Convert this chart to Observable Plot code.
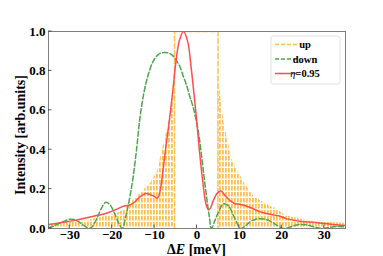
<!DOCTYPE html>
<html>
<head>
<meta charset="utf-8">
<script src="https://cdn.jsdelivr.net/npm/d3@7"></script>
<script src="https://cdn.jsdelivr.net/npm/@observablehq/plot@0.6"></script>
<style>
  html, body { margin: 0; padding: 0; background: #fff; }
  #chart svg { display: block; }
</style>
</head>
<body>
<div id="chart"></div>
<script>
// ---- data ----
const xTicks = [-30, -20, -10, 0, 10, 20, 30];
const yTicks = [0, 0.2, 0.4, 0.6, 0.8, 1.0];

// "up": envelope of the rapidly oscillating curve (left and right wings)
const upLeftX  = [-35, -32, -30, -27, -25, -22, -20, -18, -17, -15.6, -13.2, -10.9, -9.3, -7.8, -6.8, -6.2, -5.6, -5.3];
const upLeftY  = [0.02, 0.025, 0.03, 0.038, 0.045, 0.06, 0.07, 0.085, 0.095, 0.13, 0.18, 0.23, 0.29, 0.43, 0.52, 0.6, 0.68, 0.72];
const upRightX = [4.95, 5.2, 5.6, 6.4, 7.3, 8, 9.6, 11.2, 13.5, 15.9, 17.5, 18.7, 21, 25.8, 30.5, 35];
const upRightY = [0.78, 0.74, 0.67, 0.53, 0.45, 0.36, 0.29, 0.23, 0.16, 0.13, 0.11, 0.1, 0.065, 0.04, 0.032, 0.027];
// "up": saturated plateau outline
const upTopX = [-5.3, -5.3, 4.95, 4.95];
const upTopY = [0, 1, 1, 0];

// "down"
const downX = [-35, -34, -33, -32, -31, -30, -29, -28, -27, -26, -25.4, -24.6, -23.6, -22.6, -21.5, -20.5, -19.5, -18.5, -17.6,
  -16.8, -16, -15.2, -14.2, -13.4, -12.5, -11.5, -10.3, -9, -7.8, -6.6, -5.6, -4.8, -4.0, -3.2, -2.5, -1.7, -0.95, -0.2, 0.6, 1.4, 2.2, 2.9, 3.4,
  4.2, 5.0, 6.2, 7.4, 8.5, 9.5, 10.3, 11.5, 13, 15, 17, 19, 20.5, 22, 24, 26, 28, 29.5, 31, 33, 35];
const downY = [0.003, 0.01, 0.02, 0.03, 0.04, 0.047, 0.046, 0.036, 0.02, 0.006, 0, 0.012, 0.05, 0.1, 0.133, 0.12, 0.08, 0.03, 0,
  0.06, 0.14, 0.24, 0.41, 0.57, 0.69, 0.78, 0.85, 0.885, 0.893, 0.89, 0.875, 0.85, 0.82, 0.77, 0.73, 0.67, 0.62, 0.55, 0.45, 0.31, 0.17, 0.06, 0,
  0.04, 0.08, 0.125, 0.115, 0.07, 0.025, 0, 0.015, 0.04, 0.05, 0.04, 0.015, 0, 0.008, 0.02, 0.018, 0.005, 0, 0.005, 0.01, 0.008];

// "eta = 0.95"
const etaX = [-35, -32, -29, -26, -23, -21, -19, -17.5, -16, -14.8, -13.5, -12.1, -11, -10, -9.3, -8.7, -8.1, -7.3, -6.5, -5.8, -5.0, -4.2, -3.2,
  -2.2, -1.4, -0.6, 0, 0.55, 1.35, 2.1, 2.7, 3.2, 3.8, 4.8, 5.6, 6.9, 8, 9, 10.4, 12.7, 15.1, 17.5, 19.4, 21, 24.2, 28, 32, 35];
const etaY = [0.02, 0.03, 0.04, 0.055, 0.068, 0.08, 0.097, 0.112, 0.118, 0.132, 0.16, 0.178, 0.172, 0.162, 0.155, 0.19, 0.28, 0.42, 0.55, 0.68, 0.84, 0.95, 1.0,
  0.95, 0.82, 0.66, 0.53, 0.4, 0.24, 0.125, 0.095, 0.105, 0.14, 0.18, 0.19, 0.16, 0.138, 0.126, 0.122, 0.105, 0.083, 0.071, 0.063, 0.05, 0.037, 0.03, 0.02, 0.015];

const seriesNames = ["up", "down", "η=0.95"];

// ---- build tables ----
const zip = (xs, ys, extra = {}) => xs.map((x, i) => ({x, y: ys[i], ...extra}));
const upWings = [...zip(upLeftX, upLeftY, {side: "L"}), ...zip(upRightX, upRightY, {side: "R"})];
const upTop = zip(upTopX, upTopY);
const down = zip(downX, downY);
const eta = zip(etaX, etaY);

const ORANGE = "#ffc04d", GREEN = "#4ca64c", RED = "#ff4d4d";
const FONT = "'Liberation Serif', 'Times New Roman', serif";

const chart = Plot.plot({
  width: 383,
  height: 256,
  marginLeft: 48,
  marginRight: 38,
  marginTop: 31,
  marginBottom: 28,
  style: {fontFamily: FONT, fontWeight: "bold", fontSize: "12.5px", background: "#fff", color: "#000"},
  x: {domain: [-35, 35], ticks: xTicks, tickSize: 0, tickPadding: 1.5, label: null,
      tickFormat: d => d < 0 ? "\u2212" + (-d) : String(d)},
  y: {domain: [0, 1], ticks: yTicks, tickSize: 0, tickPadding: 3, label: null,
      tickFormat: d => d.toFixed(1)},
  marks: [
    Plot.areaY(upWings, {x: "x", y: "y", z: "side", fill: "url(#upPattern)", curve: "linear", clip: true}),
    Plot.line(upTop, {x: "x", y: "y", stroke: ORANGE, strokeWidth: 1.5, strokeDasharray: "5,2.5", clip: true}),
    Plot.line(down, {x: "x", y: "y", stroke: GREEN, strokeWidth: 1.5, strokeDasharray: "5,2.5", curve: "catmull-rom", clip: true}),
    Plot.line(eta, {x: "x", y: "y", stroke: RED, strokeWidth: 1.5, curve: "catmull-rom", clip: true}),
    Plot.frame({stroke: "#7f7f7f", strokeWidth: 1})
  ]
});

document.getElementById("chart").appendChild(chart);

// Plot's own tick labels: bold serif, larger
chart.querySelectorAll("text").forEach(t => {
  t.style.fontSize = "13px";
  t.style.fontWeight = "bold";
  t.style.fontFamily = FONT;
});

const svg = d3.select(chart);
const sx = chart.scale("x"), sy = chart.scale("y");

// pattern for the densely oscillating "up" curve
const defs = svg.insert("defs", ":first-child");
const pat = defs.append("pattern").attr("id", "upPattern").attr("patternUnits", "userSpaceOnUse")
  .attr("width", 3).attr("height", 6);
pat.append("rect").attr("x", 0).attr("y", 0).attr("width", 1.8).attr("height", 4.5).attr("fill", ORANGE);

// inward ticks
const y0 = sy.apply(0), x0 = sx.apply(-35);
const tg = svg.append("g").attr("stroke", "#333").attr("stroke-width", 0.8);
xTicks.forEach(t => tg.append("line").attr("x1", sx.apply(t)).attr("x2", sx.apply(t)).attr("y1", y0).attr("y2", y0 - 3.5));
yTicks.forEach(t => tg.append("line").attr("x1", x0).attr("x2", x0 + 3.5).attr("y1", sy.apply(t)).attr("y2", sy.apply(t)));

// axis labels
const xl = svg.append("text").attr("x", sx.apply(0)).attr("y", 254).attr("text-anchor", "middle")
  .style("font-family", FONT).style("font-weight", "bold").style("font-size", "14px");
xl.append("tspan").text("Δ");
xl.append("tspan").style("font-style", "italic").text("E");
xl.append("tspan").text(" [meV]");

svg.append("text").attr("transform", `translate(25,135) rotate(-90)`).attr("text-anchor", "middle")
  .style("font-family", FONT).style("font-weight", "bold").style("font-size", "14px").text("Intensity [arb.units]");

// legend
const lg = svg.append("g");
lg.append("rect").attr("x", 271).attr("y", 36).attr("width", 69).attr("height", 48).attr("rx", 2.5)
  .attr("fill", "#fff").attr("fill-opacity", 0.8).attr("stroke", "#d9d9d9").attr("stroke-width", 0.8);
const items = [
  {name: seriesNames[0], color: ORANGE, dash: "4,2"},
  {name: seriesNames[1], color: GREEN, dash: "4,2"},
  {name: seriesNames[2], color: RED, dash: null}
];
items.forEach((it, i) => {
  const yy = 44.5 + i * 14.5;
  const ln = lg.append("line").attr("x1", 275).attr("x2", 297).attr("y1", yy).attr("y2", yy)
    .attr("stroke", it.color).attr("stroke-width", 1.5);
  if (it.dash) ln.attr("stroke-dasharray", it.dash);
  const tx = lg.append("text").attr("x", 305).attr("y", yy + 3.8)
    .style("font-family", FONT).style("font-weight", "bold").style("font-size", "10.5px");
  if (i === 2) {
    tx.append("tspan").style("font-style", "italic").style("font-weight", "normal").text("η");
    tx.append("tspan").text("=0.95");
  } else {
    tx.text(it.name);
  }
});
</script>
</body>
</html>
